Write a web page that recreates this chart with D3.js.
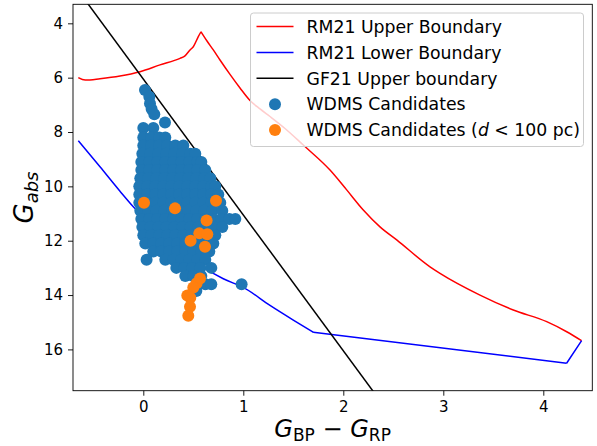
<!DOCTYPE html>
<html>
<head>
<meta charset="utf-8">
<script src="https://cdn.jsdelivr.net/npm/d3@7"></script>
<style>
body { margin: 0; background: #fff; }
text { font-family: "DejaVu Sans", sans-serif; fill: #000; }
</style>
</head>
<body>
<script>
// taille de la figure
var w = 597;
var h = 446;
var plotL = 73, plotR = 592.3, plotT = 4.3, plotB = 390.7;

// RM21 upper boundary
var upperBpRp = [-0.65, -0.58, -0.433, -0.233, -0.033, 0.167, 0.367, 0.417, 0.467, 0.5, 0.55, 0.577,
	0.637, 0.7, 0.767, 0.867, 0.967, 1.067, 1.167, 1.267, 1.417, 1.6, 1.867, 2.034, 2.2, 2.367, 2.534,
	2.867, 2.967, 3.367, 3.7, 4.034, 4.234, 4.383];
var upperG = [6.0, 6.09, 6.04, 5.94, 5.78, 5.53, 5.29, 5.2, 4.98, 4.86, 4.49, 4.31,
	4.65, 4.98, 5.35, 5.88, 6.38, 6.84, 7.15, 7.43, 7.87, 8.48, 9.4, 10.13, 10.87, 11.49, 11.97,
	12.96, 13.2, 14.0, 14.55, 14.98, 15.35, 15.68];
var upperBreaks = [11];

// RM21 lower boundary
var lowerBpRp = [-0.65, -0.433, -0.233, -0.1, 0.033, 0.233, 0.433, 0.6, 0.8, 1.0, 1.267, 1.5, 1.7, 4.233, 4.383];
var lowerG = [8.32, 9.28, 10.18, 10.75, 11.25, 11.97, 12.52, 12.97, 13.4, 13.72, 14.38, 14.92, 15.37, 16.51, 15.68];
var lowerBreaks = [12, 13];

// GF21 upper boundary
var gfBpRp = [-0.6, 2.35];
var gfG = [3.05, 17.8];

// WDMS candidates, rangees par magnitude
var wdmsRows = [
	{ g: 6.45, bprp: [0.017] },
	{ g: 6.7, bprp: [0.06] },
	{ g: 6.95, bprp: [0.067] },
	{ g: 7.15, bprp: [0.083] },
	{ g: 7.35, bprp: [0.11] },
	{ g: 7.65, bprp: [0.217] },
	{ g: 7.85, bprp: [0.0, 0.1] },
	{ g: 8.2, bprp: [0.0, 0.08, 0.16, 0.22] },
	{ g: 8.5, bprp: [0.0, 0.08, 0.16, 0.24, 0.32, 0.40] },
	{ g: 8.8, bprp: [-0.01, 0.07, 0.15, 0.23, 0.31, 0.39, 0.47, 0.52] },
	{ g: 9.1, bprp: [-0.02, 0.06, 0.14, 0.22, 0.30, 0.38, 0.46, 0.54, 0.58] },
	{ g: 9.4, bprp: [-0.02, 0.06, 0.14, 0.22, 0.30, 0.38, 0.46, 0.54, 0.62] },
	{ g: 9.7, bprp: [-0.03, 0.05, 0.13, 0.21, 0.29, 0.37, 0.45, 0.53, 0.61, 0.67] },
	{ g: 10.0, bprp: [-0.04, 0.04, 0.12, 0.20, 0.28, 0.36, 0.44, 0.52, 0.60, 0.68, 0.72] },
	{ g: 10.3, bprp: [-0.04, 0.04, 0.12, 0.20, 0.28, 0.36, 0.44, 0.52, 0.60, 0.68, 0.75] },
	{ g: 10.6, bprp: [-0.04, 0.04, 0.12, 0.20, 0.28, 0.36, 0.44, 0.52, 0.60, 0.68, 0.77] },
	{ g: 10.9, bprp: [-0.03, 0.05, 0.13, 0.21, 0.29, 0.37, 0.45, 0.53, 0.61, 0.69, 0.79] },
	{ g: 11.2, bprp: [-0.02, 0.06, 0.14, 0.22, 0.30, 0.38, 0.46, 0.54, 0.62, 0.70, 0.78, 0.86, 0.92] },
	{ g: 11.5, bprp: [-0.01, 0.07, 0.15, 0.23, 0.31, 0.39, 0.47, 0.55, 0.63, 0.71, 0.79] },
	{ g: 11.8, bprp: [0.0, 0.08, 0.16, 0.24, 0.32, 0.40, 0.48, 0.56, 0.64, 0.72] },
	{ g: 12.1, bprp: [0.02, 0.10, 0.18, 0.26, 0.34, 0.42, 0.50, 0.58, 0.66, 0.70] },
	{ g: 12.4, bprp: [0.10, 0.18, 0.26, 0.34, 0.42, 0.50, 0.58, 0.66] },
	{ g: 12.7, bprp: [0.033, 0.22, 0.30, 0.38, 0.46, 0.54, 0.62] },
	{ g: 13.0, bprp: [0.33, 0.41, 0.49, 0.57, 0.68] },
	{ g: 13.3, bprp: [0.42, 0.50, 0.58] },
	{ g: 13.6, bprp: [0.55, 0.62, 0.68, 0.983] },
	{ g: 13.85, bprp: [0.53] }
];

// WDMS candidates a moins de 100 pc
var nearBpRp = [0.007, 0.317, 0.727, 0.633, 0.56, 0.64, 0.473, 0.617, 0.567, 0.533, 0.5, 0.44, 0.47, 0.467, 0.45];
var nearG = [10.6, 10.81, 10.53, 11.26, 11.73, 11.76, 12.0, 12.22, 13.39, 13.57, 13.72, 14.02, 14.1, 14.43, 14.76];

var xTicks = [0, 1, 2, 3, 4];
var yTicks = [4, 6, 8, 10, 12, 14, 16];

var legendLabels = ["RM21 Upper Boundary", "RM21 Lower Boundary", "GF21 Upper boundary", "WDMS Candidates", "WDMS Candidates"];
var colors = { upper: "#ff0000", lower: "#0000ff", gf: "#000000", wdms: "#1f77b4", near: "#ff7f0e" };

var x = d3.scaleLinear().domain([-0.703, 4.49]).range([plotL, plotR]);
var y = d3.scaleLinear().domain([3.3, 17.52]).range([plotT, plotB]);

var svg = d3.select("body")
	.append("svg")
	.attr("width", w)
	.attr("height", h);

svg.append("clipPath")
	.attr("id", "zone")
	.append("rect")
	.attr("x", plotL)
	.attr("y", plotT)
	.attr("width", plotR - plotL)
	.attr("height", plotB - plotT);

var plot = svg.append("g").attr("clip-path", "url(#zone)");

function toPoints(xs, ys) {
	return xs.map(function(v, i) { return [v, ys[i]]; });
}

// coupe la courbe aux points anguleux, lisse le reste
function segments(pts, breaks) {
	var out = [], start = 0;
	breaks.concat([pts.length - 1]).forEach(function(b) {
		out.push(pts.slice(start, b + 1));
		start = b;
	});
	return out;
}

var line = d3.line()
	.curve(d3.curveMonotoneX)
	.x(function(d) { return x(d[0]); })
	.y(function(d) { return y(d[1]); });

function drawCurve(xs, ys, breaks, c) {
	var d = segments(toPoints(xs, ys), breaks).map(function(s) { return line(s); }).join("");
	plot.append("path")
		.attr("d", d)
		.attr("fill", "none")
		.attr("stroke", c)
		.attr("stroke-width", 1.5)
		.attr("stroke-linejoin", "round");
}

// les courbes
drawCurve(upperBpRp, upperG, upperBreaks, colors.upper);
drawCurve(lowerBpRp, lowerG, lowerBreaks, colors.lower);
drawCurve(gfBpRp, gfG, [], colors.gf);

// les points
var wdms = [];
wdmsRows.forEach(function(r) {
	r.bprp.forEach(function(v) { wdms.push([v, r.g]); });
});

plot.selectAll(".wdms")
	.data(wdms)
	.enter()
	.append("circle")
	.attr("class", "wdms")
	.attr("cx", function(d) { return x(d[0]); })
	.attr("cy", function(d) { return y(d[1]); })
	.attr("r", 6)
	.style("fill", colors.wdms);

plot.selectAll(".near")
	.data(toPoints(nearBpRp, nearG))
	.enter()
	.append("circle")
	.attr("class", "near")
	.attr("cx", function(d) { return x(d[0]); })
	.attr("cy", function(d) { return y(d[1]); })
	.attr("r", 6)
	.style("fill", colors.near);

// axes
var xAxis = svg.append("g")
	.attr("transform", "translate(0," + plotB + ")")
	.call(d3.axisBottom(x).tickValues(xTicks).tickFormat(d3.format("d"))
		.tickSize(5).tickSizeOuter(0).tickPadding(6));

var yAxis = svg.append("g")
	.attr("transform", "translate(" + plotL + ",0)")
	.call(d3.axisLeft(y).tickValues(yTicks).tickFormat(d3.format("d"))
		.tickSize(5).tickSizeOuter(0).tickPadding(5));

[xAxis, yAxis].forEach(function(a) {
	a.select(".domain").remove();
	a.selectAll("line").attr("stroke", "#000").attr("stroke-width", 0.9);
	a.selectAll("text")
		.attr("font-family", "DejaVu Sans")
		.attr("font-size", 15)
		.attr("fill", "#000");
});

svg.append("rect")
	.attr("x", plotL)
	.attr("y", plotT)
	.attr("width", plotR - plotL)
	.attr("height", plotB - plotT)
	.attr("fill", "none")
	.attr("stroke", "#000")
	.attr("stroke-width", 0.9);

// titres des axes
var xl = svg.append("text")
	.attr("x", (plotL + plotR) / 2)
	.attr("y", 437)
	.attr("text-anchor", "middle")
	.attr("font-size", 24);
xl.append("tspan").attr("font-style", "italic").text("G");
xl.append("tspan").attr("font-size", 17).attr("dy", 4).text("BP");
xl.append("tspan").attr("dy", -4).text(" \u2212 ");
xl.append("tspan").attr("font-style", "italic").text("G");
xl.append("tspan").attr("font-size", 17).attr("dy", 4).text("RP");

var yl = svg.append("text")
	.attr("transform", "translate(33," + ((plotT + plotB) / 2) + ") rotate(-90)")
	.attr("text-anchor", "middle")
	.attr("font-size", 26);
yl.append("tspan").attr("font-style", "italic").text("G");
yl.append("tspan").attr("font-style", "italic").attr("font-size", 18).attr("dy", 5).text("abs");

// legende
var legende = svg.append("g");
legende.append("rect")
	.attr("x", 250.5)
	.attr("y", 13)
	.attr("width", 333)
	.attr("height", 133.5)
	.attr("rx", 3)
	.attr("fill", "#fff")
	.attr("fill-opacity", 0.8)
	.attr("stroke", "#cccccc")
	.attr("stroke-width", 1);

var rowY = 26.5, rowStep = 25.9;
var handles = [colors.upper, colors.lower, colors.gf];
handles.forEach(function(c, i) {
	legende.append("line")
		.attr("x1", 256.5)
		.attr("x2", 293.5)
		.attr("y1", rowY + i * rowStep)
		.attr("y2", rowY + i * rowStep)
		.attr("stroke", c)
		.attr("stroke-width", 1.5);
});
[colors.wdms, colors.near].forEach(function(c, i) {
	legende.append("circle")
		.attr("cx", 275)
		.attr("cy", rowY + (i + 3) * rowStep)
		.attr("r", 6)
		.style("fill", c);
});
legendLabels.forEach(function(t, i) {
	var tx = legende.append("text")
		.attr("x", 306.5)
		.attr("y", rowY + i * rowStep)
		.attr("dy", "0.36em")
		.attr("font-size", 17.3)
		.text(t);
	if (i == 4) {
		tx.append("tspan").text(" (");
		tx.append("tspan").attr("font-style", "italic").text("d");
		tx.append("tspan").text(" < 100 pc)");
	}
});
</script>
</body>
</html>
